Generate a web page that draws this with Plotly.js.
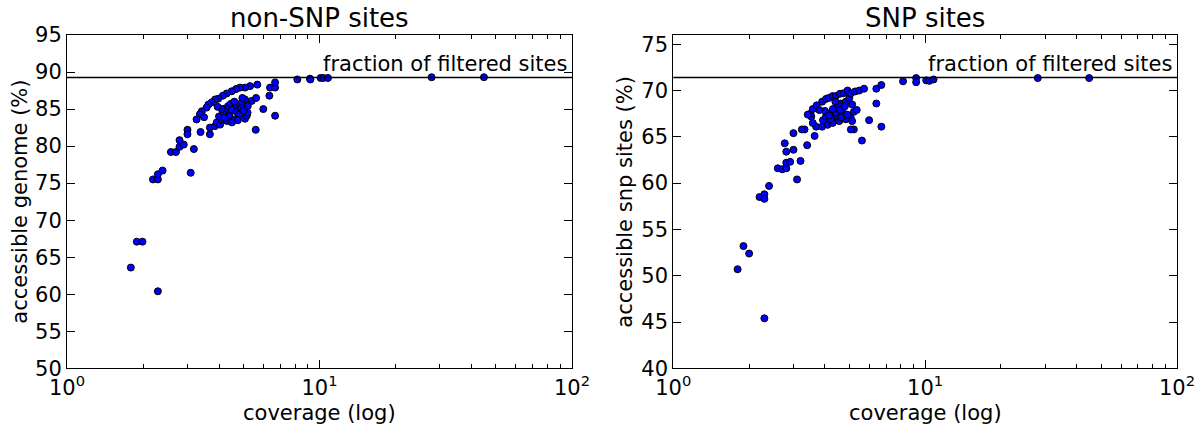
<!DOCTYPE html>
<html>
<head>
<meta charset="utf-8">
<script src="https://cdn.plot.ly/plotly-3.0.1.min.js"></script>
<style>
  html, body { margin: 0; padding: 0; background: #fff; }
  #chart { width: 1199px; height: 427px; }
</style>
</head>
<body>
<div id="chart"></div>
<script>
// ---- Data ----
const panelTitles = ["non-SNP sites", "SNP sites"];
const yLabels = ["accessible genome (%)", "accessible snp sites (%)"];
const xLabel = "coverage (log)";
const refLabel = "fraction of filtered sites";

// left panel: non-SNP sites
const nonSnpCoverage = [
  1.79, 1.89, 1.99, 2.29, 2.19, 2.29, 2.29, 2.39, 3.09, 2.58,
  2.70, 2.79, 2.90, 2.79, 3.18, 3.00, 3.00, 3.38, 3.68, 3.68,
  3.86, 3.92, 4.04, 4.10, 4.23, 4.35, 4.42, 4.56, 4.70, 4.84,
  4.92, 5.07, 5.39, 5.61, 5.59, 5.99, 6.67, 6.33, 6.37, 6.67,
  6.67, 5.67, 5.31, 5.07, 4.84, 4.67, 4.49, 4.29, 4.14, 3.97,
  3.86, 3.74, 3.63, 3.57, 3.42, 3.36, 3.26, 3.49, 5.07, 5.15,
  5.19, 4.00, 4.15, 4.25, 4.35, 4.45, 4.60, 4.40, 4.50, 4.70,
  4.80, 4.90, 5.00, 4.60, 4.30, 4.20, 4.10, 3.95, 4.75, 4.95,
  5.20, 4.50, 8.17, 9.17, 9.20, 10.1, 10.35, 10.8, 27.8, 44.8
];
const nonSnpAccessible = [
  63.6, 67.1, 67.1, 60.4, 75.5, 75.5, 76.2, 76.7, 76.4, 79.2,
  79.2, 79.9, 80.2, 80.8, 79.6, 82.2, 81.6, 81.9, 81.6, 82.5,
  82.7, 83.2, 82.9, 83.6, 84.0, 84.3, 84.7, 85.0, 85.4, 85.6,
  85.9, 86.3, 86.1, 86.5, 82.2, 85.0, 84.1, 86.8, 87.9, 87.9,
  88.6, 88.3, 88.1, 87.9, 87.9, 87.7, 87.4, 87.1, 86.8, 86.4,
  86.3, 85.9, 85.6, 85.2, 84.7, 84.3, 83.6, 83.9, 83.7, 84.1,
  84.5, 84.0, 84.6, 85.1, 85.4, 85.7, 86.0, 84.0, 84.9, 84.6,
  84.3, 85.1, 84.8, 83.6, 83.4, 83.8, 85.0, 85.3, 83.5, 86.5,
  85.4, 83.2, 89.0, 89.1, 89.0, 89.2, 89.2, 89.2, 89.3, 89.3
];
const nonSnpFiltered = 89.25;

// right panel: SNP sites
const snpCoverage = [
  1.80, 1.90, 2.00, 2.30, 2.20, 2.30, 2.30, 2.40, 3.10, 2.60,
  2.71, 2.81, 2.81, 2.91, 3.20, 2.81, 3.00, 3.40, 5.61, 3.00,
  3.32, 3.69, 3.90, 4.10, 3.93, 4.04, 4.23, 4.35, 4.49, 4.62,
  4.84, 5.00, 5.13, 5.21, 5.35, 5.07, 5.13, 5.21, 5.07, 4.29,
  4.49, 4.69, 4.56, 4.29, 4.84, 4.69, 4.42, 3.58, 3.53, 3.50,
  3.42, 3.58, 3.71, 3.90, 4.04, 4.14, 4.29, 4.42, 4.59, 4.73,
  4.92, 5.07, 5.27, 5.47, 5.72, 5.99, 6.40, 6.40, 6.70, 6.70,
  3.24, 3.64, 2.77, 4.30, 4.50, 4.00, 4.60, 4.80, 4.20, 4.40,
  4.90, 3.80, 4.15, 4.65, 8.17, 9.21, 9.21, 10.1, 10.4, 10.8, 28.0, 44.8
];
const snpAccessible = [
  50.7, 53.2, 52.4, 45.4, 58.5, 58.8, 58.3, 59.7, 60.4, 61.6,
  61.5, 61.6, 62.2, 62.3, 62.4, 63.4, 63.6, 64.1, 64.6, 65.4,
  65.8, 66.1, 66.1, 66.3, 66.8, 67.2, 67.6, 67.9, 68.3, 68.6,
  68.8, 69.2, 68.5, 67.7, 67.9, 67.0, 66.7, 65.8, 65.8, 67.0,
  67.2, 67.6, 66.7, 66.5, 66.9, 68.0, 67.6, 66.5, 67.2, 67.5,
  67.4, 68.0, 68.4, 68.8, 69.1, 69.2, 69.4, 69.4, 69.65, 69.7,
  70.0, 69.7, 69.9, 70.0, 70.2, 66.8, 70.2, 68.6, 66.1, 70.6,
  65.8, 65.1, 64.3, 68.0, 68.5, 67.8, 67.9, 68.3, 66.9, 68.8,
  67.4, 67.9, 67.3, 67.1, 71.0, 71.35, 70.9, 71.1, 71.05, 71.2, 71.35, 71.35
];
const snpFiltered = 71.4;

const xTickVals = [1, 10, 100];
const xTickText = ["10<sup>0</sup>", "10<sup>1</sup>", "10<sup>2</sup>"];
const yTicksLeft = [50, 55, 60, 65, 70, 75, 80, 85, 90, 95];
const yTicksRight = [40, 45, 50, 55, 60, 65, 70, 75];

// ---- Styling ----
const FONT = "DejaVu Sans, Liberation Sans, sans-serif";
const markerStyle = { color: "#0000ff", size: 7, line: { color: "#000000", width: 1 } };

const traces = [
  { x: nonSnpCoverage, y: nonSnpAccessible, type: "scatter", mode: "markers",
    marker: markerStyle, xaxis: "x", yaxis: "y", hoverinfo: "x+y" },
  { x: snpCoverage, y: snpAccessible, type: "scatter", mode: "markers",
    marker: markerStyle, xaxis: "x2", yaxis: "y2", hoverinfo: "x+y" }
];

const xDomL = [67 / 1199, 572 / 1199];
const xDomR = [673.3 / 1199, 1177 / 1199];
const yDom = [1 - 368.3 / 427, 1 - 35 / 427];

function xAxis(domain, anchor) {
  return {
    domain: domain, anchor: anchor, type: "log", range: [0, 2],
    tickmode: "array", tickvals: xTickVals, ticktext: xTickText,
    ticks: "inside", ticklen: 8, tickwidth: 1, tickcolor: "#000",
    minor: { ticks: "inside", ticklen: 4, tickcolor: "#000", tickwidth: 1, dtick: "D1", showgrid: false },
    showline: true, linecolor: "#000", linewidth: 1, mirror: "ticks",
    showgrid: false, zeroline: false,
    tickfont: { family: FONT, size: 21, color: "#000" }
  };
}
function yAxis(domain, anchor, range, ticks) {
  return {
    domain: domain, anchor: anchor, range: range,
    tickmode: "array", tickvals: ticks,
    ticks: "inside", ticklen: 8, tickwidth: 1, tickcolor: "#000",
    showline: true, linecolor: "#000", linewidth: 1, mirror: "ticks",
    showgrid: false, zeroline: false,
    tickfont: { family: FONT, size: 21, color: "#000" }
  };
}

const layout = {
  width: 1199, height: 427,
  margin: { l: 0, r: 0, t: 0, b: 0 },
  paper_bgcolor: "#fff", plot_bgcolor: "#fff",
  showlegend: false,
  font: { family: FONT, color: "#000" },
  xaxis: xAxis(xDomL, "y"),
  yaxis: yAxis(yDom, "x", [50, 95], yTicksLeft),
  xaxis2: xAxis(xDomR, "y2"),
  yaxis2: yAxis(yDom, "x2", [40, 76], yTicksRight),
  shapes: [
    { type: "line", xref: "x domain", yref: "y", x0: 0, x1: 1, y0: nonSnpFiltered, y1: nonSnpFiltered,
      line: { color: "#000", width: 1.5 } },
    { type: "line", xref: "x2 domain", yref: "y2", x0: 0, x1: 1, y0: snpFiltered, y1: snpFiltered,
      line: { color: "#000", width: 1.5 } }
  ],
  annotations: [
    { text: panelTitles[0], xref: "paper", yref: "paper", x: (xDomL[0] + xDomL[1]) / 2, y: 1 - 18 / 427,
      xanchor: "center", yanchor: "middle", showarrow: false, font: { family: FONT, size: 26, color: "#000" } },
    { text: panelTitles[1], xref: "paper", yref: "paper", x: (xDomR[0] + xDomR[1]) / 2, y: 1 - 18 / 427,
      xanchor: "center", yanchor: "middle", showarrow: false, font: { family: FONT, size: 26, color: "#000" } },
    { text: xLabel, xref: "paper", yref: "paper", x: (xDomL[0] + xDomL[1]) / 2, y: 1 - 413 / 427,
      xanchor: "center", yanchor: "middle", showarrow: false, font: { family: FONT, size: 21, color: "#000" } },
    { text: xLabel, xref: "paper", yref: "paper", x: (xDomR[0] + xDomR[1]) / 2, y: 1 - 413 / 427,
      xanchor: "center", yanchor: "middle", showarrow: false, font: { family: FONT, size: 21, color: "#000" } },
    { text: yLabels[0], xref: "paper", yref: "paper", x: 20 / 1199, y: (yDom[0] + yDom[1]) / 2,
      xanchor: "center", yanchor: "middle", textangle: -90, showarrow: false, font: { family: FONT, size: 21, color: "#000" } },
    { text: yLabels[1], xref: "paper", yref: "paper", x: 625 / 1199, y: (yDom[0] + yDom[1]) / 2,
      xanchor: "center", yanchor: "middle", textangle: -90, showarrow: false, font: { family: FONT, size: 21, color: "#000" } },
    { text: refLabel, xref: "x domain", yref: "y", x: 0.995, y: nonSnpFiltered,
      xanchor: "right", yanchor: "bottom", showarrow: false, font: { family: FONT, size: 21, color: "#000" } },
    { text: refLabel, xref: "x2 domain", yref: "y2", x: 0.995, y: snpFiltered,
      xanchor: "right", yanchor: "bottom", showarrow: false, font: { family: FONT, size: 21, color: "#000" } }
  ]
};

Plotly.newPlot("chart", traces, layout, { staticPlot: true, displayModeBar: false });
</script>
</body>
</html>
